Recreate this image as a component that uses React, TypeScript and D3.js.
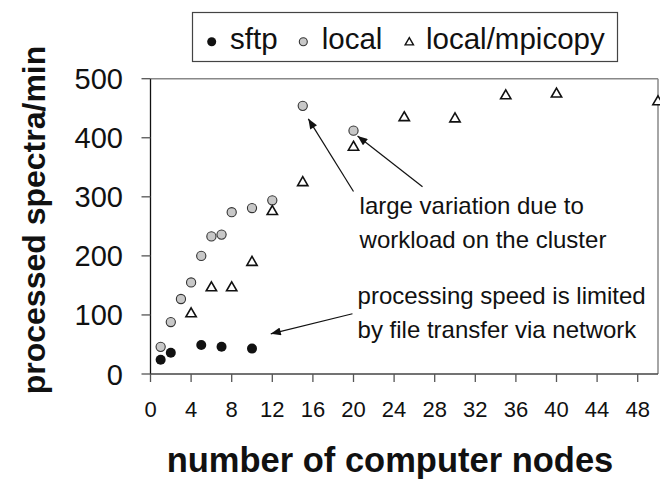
import React from "react";
import * as d3 from "d3";

const nodesSftp = [1, 2, 5, 7, 10];
const sftp = [24, 36, 49, 46, 43];
const nodesLocal = [1, 2, 3, 4, 5, 6, 7, 8, 10, 12, 15, 20];
const local = [46, 88, 127, 155, 200, 233, 236, 274, 281, 294, 454, 412];
const nodesMpi = [4, 6, 8, 10, 12, 15, 20, 25, 30, 35, 40, 50];
const mpicopy = [102, 146, 146, 189, 275, 324, 384, 434, 432, 471, 474, 461];

const xTicks = [0, 4, 8, 12, 16, 20, 24, 28, 32, 36, 40, 44, 48];
const yTicks = [0, 100, 200, 300, 400, 500];

const legendLabels = ["sftp", "local", "local/mpicopy"];
const xTitle = "number of computer nodes";
const yTitle = "processed spectra/min";

// annotations in data units
const notes = [
  { lines: ["large variation due to", "workload on the cluster"], x: 20.6, y: 271 },
  { lines: ["processing speed is limited", "by file transfer via network"], x: 20.4, y: 119 },
];
const arrows = [
  { from: [20.0, 309], to: [15.55, 432] },
  { from: [26.8, 317], to: [20.4, 403] },
  { from: [19.9, 102], to: [11.85, 68] },
];

const FONT = "'Liberation Sans', Arial, Helvetica, sans-serif";

export default function App() {
  const x = d3.scaleLinear().domain([0, 50]).range([150.5, 658]);
  const y = d3.scaleLinear().domain([0, 500]).range([374, 78.7]);
  const tri = d3.symbol().type(d3.symbolTriangle).size(46)();
  const triLegend = d3.symbol().type(d3.symbolTriangle).size(30)();
  const lineGap = 34;

  return (
    <svg
      width={660}
      height={480}
      style={{ position: "absolute", left: 0, top: 0, background: "#fff" }}
      fontFamily={FONT}
    >
      <defs>
        <marker
          id="ah"
          viewBox="0 0 10 8"
          refX={10}
          refY={4}
          markerWidth={11}
          markerHeight={8}
          markerUnits="userSpaceOnUse"
          orient="auto"
        >
          <path d="M0,0 L10,4 L0,8 Z" fill="#111" />
        </marker>
      </defs>
      <rect x={0} y={0} width={660} height={480} fill="#fff" />

      {/* plot border */}
      <line x1={x(0)} x2={x(50)} y1={y(500)} y2={y(500)} stroke="#888" strokeWidth={1.5} />
      <line x1={x(50)} x2={x(50)} y1={y(500)} y2={y(0)} stroke="#888" strokeWidth={1.5} />

      {/* y axis */}
      <line x1={x(0)} x2={x(0)} y1={y(500)} y2={y(0)} stroke="#111" strokeWidth={1.3} />
      {yTicks.map((t) => (
        <g key={"y" + t}>
          <line x1={x(0) - 9} x2={x(0)} y1={y(t)} y2={y(t)} stroke="#555" strokeWidth={1.3} />
          <text x={123} y={y(t) + 10.5} textAnchor="end" fontSize={29} fill="#111">
            {t}
          </text>
        </g>
      ))}

      {/* x axis */}
      <line x1={x(0)} x2={x(50)} y1={y(0)} y2={y(0)} stroke="#444" strokeWidth={1.3} />
      {xTicks.map((t) => (
        <g key={"x" + t}>
          <line x1={x(t)} x2={x(t)} y1={y(0)} y2={y(0) + 8} stroke="#555" strokeWidth={1.3} />
          <text x={x(t)} y={417} textAnchor="middle" fontSize={22} fill="#111">
            {t}
          </text>
        </g>
      ))}

      {/* titles */}
      <text x={390} y={472} textAnchor="middle" fontSize={34.5} fontWeight="bold" fill="#111">
        {xTitle}
      </text>
      <text
        transform={`translate(45,220) rotate(-90)`}
        textAnchor="middle"
        fontSize={32}
        fontWeight="bold"
        fill="#111"
      >
        {yTitle}
      </text>

      {/* data */}
      {nodesLocal.map((n, i) => (
        <circle key={"l" + i} cx={x(n)} cy={y(local[i])} r={4.6} fill="#c8c8c8" stroke="#333" strokeWidth={1.1} />
      ))}
      {nodesMpi.map((n, i) => (
        <path
          key={"m" + i}
          d={tri}
          transform={`translate(${x(n)},${y(mpicopy[i])})`}
          fill="#fff"
          stroke="#111"
          strokeWidth={1.6}
        />
      ))}
      {nodesSftp.map((n, i) => (
        <circle key={"s" + i} cx={x(n)} cy={y(sftp[i])} r={5} fill="#111" />
      ))}

      {/* annotations */}
      {arrows.map((a, i) => (
        <line
          key={"a" + i}
          x1={x(a.from[0])}
          y1={y(a.from[1])}
          x2={x(a.to[0])}
          y2={y(a.to[1])}
          stroke="#111"
          strokeWidth={1.2}
          markerEnd="url(#ah)"
        />
      ))}
      {notes.map((nt, i) => (
        <g key={"n" + i}>
          {nt.lines.map((ln, j) => (
            <text key={j} x={x(nt.x)} y={y(nt.y) + j * lineGap} fontSize={24} fill="#111">
              {ln}
            </text>
          ))}
        </g>
      ))}

      {/* legend */}
      <rect x={192.5} y={12.5} width={425} height={49} fill="#fff" stroke="#444" strokeWidth={1.2} />
      <circle cx={211.7} cy={41.7} r={4.5} fill="#111" />
      <text x={230} y={48.5} fontSize={29.5} fill="#111">
        {legendLabels[0]}
      </text>
      <circle cx={303.3} cy={41.7} r={4} fill="#c8c8c8" stroke="#333" strokeWidth={1.1} />
      <text x={321.7} y={48.5} fontSize={29.5} fill="#111">
        {legendLabels[1]}
      </text>
      <path d={triLegend} transform="translate(409.3,42.5)" fill="#fff" stroke="#111" strokeWidth={1.4} />
      <text x={426} y={48.5} fontSize={29.5} fill="#111">
        {legendLabels[2]}
      </text>
    </svg>
  );
}
